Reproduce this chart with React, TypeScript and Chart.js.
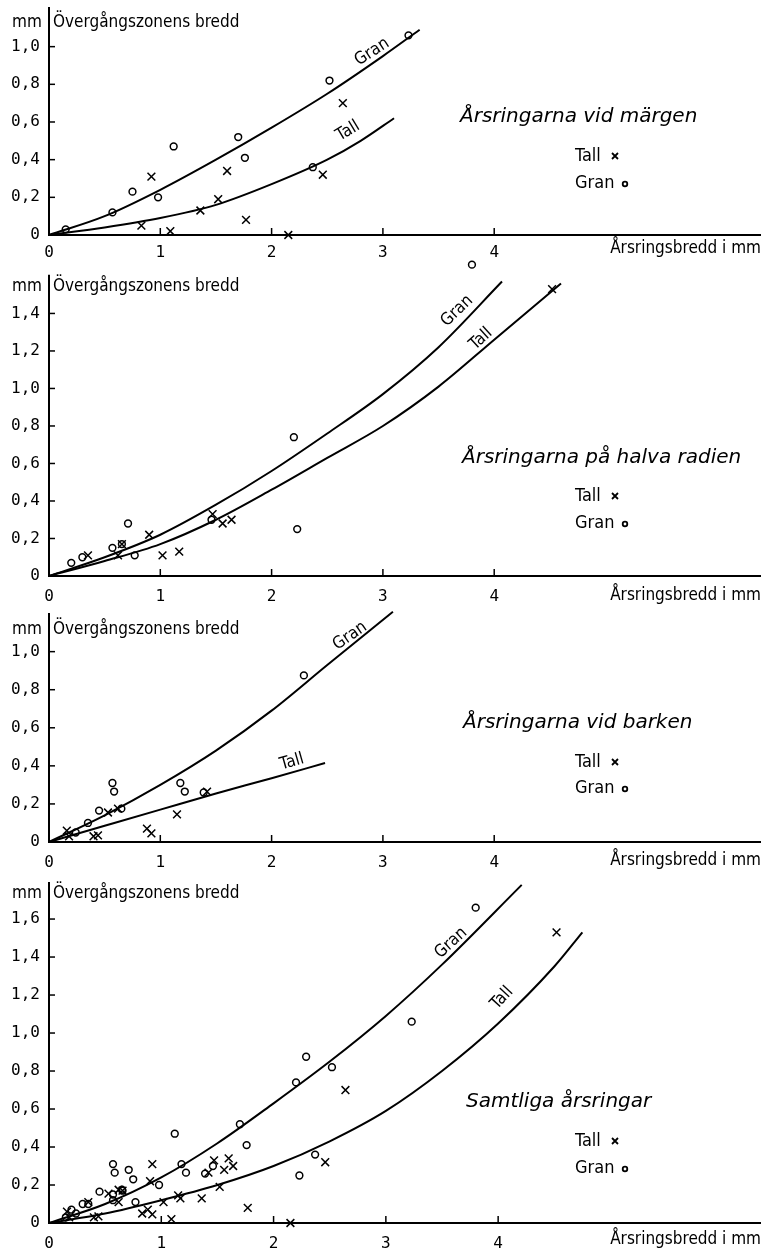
import React, { useEffect, useRef } from "react";
import { Chart, registerables } from "chart.js";

Chart.register(...registerables);

// ---------- Text ----------
const Y_TITLE_UNIT = "mm";
const Y_TITLE = "Övergångszonens bredd";
const X_TITLE = "Årsringsbredd i mm";
const SERIES_GRAN = "Gran";
const SERIES_TALL = "Tall";
const X_TICK_MAX = 4;

// ---------- Panel 1: Årsringarna vid märgen ----------
const p1GranX = [0.15, 0.57, 0.75, 0.98, 1.12, 1.70, 1.76, 2.37, 2.52, 3.23];
const p1GranY = [0.03, 0.12, 0.23, 0.20, 0.47, 0.52, 0.41, 0.36, 0.82, 1.06];
const p1TallX = [0.83, 0.92, 1.09, 1.36, 1.52, 1.60, 1.77, 2.15, 2.46, 2.64];
const p1TallY = [0.05, 0.31, 0.02, 0.13, 0.19, 0.34, 0.08, 0.00, 0.32, 0.70];
const p1GranCurveX = [0, 0.5, 1.0, 1.5, 2.0, 2.5, 3.0, 3.33];
const p1GranCurveY = [0, 0.10, 0.24, 0.40, 0.57, 0.75, 0.95, 1.09];
const p1TallCurveX = [0, 0.5, 1.0, 1.5, 2.0, 2.5, 2.8, 3.1];
const p1TallCurveY = [0, 0.04, 0.09, 0.16, 0.27, 0.40, 0.50, 0.62];

// ---------- Panel 2: Årsringarna på halva radien ----------
const p2GranX = [0.20, 0.30, 0.57, 0.655, 0.71, 0.77, 1.46, 2.20, 2.23, 3.80];
const p2GranY = [0.07, 0.10, 0.15, 0.17, 0.28, 0.11, 0.30, 0.74, 0.25, 1.66];
const p2TallX = [0.35, 0.62, 0.655, 0.90, 1.02, 1.17, 1.47, 1.56, 1.64, 4.52];
const p2TallY = [0.11, 0.11, 0.17, 0.22, 0.11, 0.13, 0.33, 0.28, 0.30, 1.53];
const p2GranCurveX = [0, 0.5, 1.0, 1.5, 2.0, 2.5, 3.0, 3.5, 4.07];
const p2GranCurveY = [0, 0.10, 0.22, 0.38, 0.56, 0.76, 0.97, 1.22, 1.57];
const p2TallCurveX = [0, 0.5, 1.0, 1.5, 2.0, 2.5, 3.0, 3.5, 4.0, 4.6];
const p2TallCurveY = [0, 0.08, 0.17, 0.30, 0.46, 0.63, 0.80, 1.01, 1.26, 1.56];

// ---------- Panel 3: Årsringarna vid barken ----------
const p3GranX = [0.24, 0.35, 0.45, 0.57, 0.585, 0.65, 1.18, 1.22, 1.39, 2.29];
const p3GranY = [0.05, 0.10, 0.165, 0.31, 0.265, 0.175, 0.31, 0.265, 0.26, 0.875];
const p3TallX = [0.16, 0.18, 0.40, 0.44, 0.53, 0.62, 0.88, 0.92, 1.15, 1.42];
const p3TallY = [0.06, 0.03, 0.03, 0.035, 0.155, 0.175, 0.07, 0.045, 0.145, 0.265];
const p3GranCurveX = [0, 0.5, 1.0, 1.5, 2.0, 2.5, 3.09];
const p3GranCurveY = [0, 0.14, 0.30, 0.48, 0.69, 0.93, 1.21];
const p3TallCurveX = [0, 0.5, 1.0, 1.5, 2.0, 2.48];
const p3TallCurveY = [0, 0.085, 0.17, 0.255, 0.335, 0.415];

// ---------- Panel 4: Samtliga årsringar (curves) ----------
const p4GranCurveX = [0, 0.5, 1.0, 1.5, 2.0, 2.5, 3.0, 3.5, 4.21];
const p4GranCurveY = [0, 0.10, 0.24, 0.42, 0.63, 0.85, 1.09, 1.36, 1.78];
const p4TallCurveX = [0, 0.5, 1.0, 1.5, 2.0, 2.5, 3.0, 3.5, 4.0, 4.5, 4.75];
const p4TallCurveY = [0, 0.05, 0.12, 0.20, 0.30, 0.43, 0.59, 0.80, 1.05, 1.35, 1.53];

// ---------- Fonts ----------
const LABEL_FONT = "'DejaVu Sans Condensed', 'Liberation Sans Narrow', 'DejaVu Sans', sans-serif";
const TICK_FONT = "'DejaVu Sans Mono', monospace";
const TITLE_FONT = "'DejaVu Sans', sans-serif";

type Pt = { x: number; y: number };
const pts = (xs: number[], ys: number[]): Pt[] => xs.map((x, i) => ({ x, y: ys[i] }));

type CurveLabel = { text: string; x: number; y: number; rot: number };
type PanelCfg = {
  key: string;
  top: number;
  height: number;
  padTop: number;
  bottomH: number;
  xMax: number;
  yMax: number;
  yAxisTop: number;
  yTickMax: number;
  xPad: number;
  gran: Pt[];
  tall: Pt[];
  granCurve: Pt[];
  tallCurve: Pt[];
  title: string;
  titleX: number;
  titleY: number;
  headY: number;
  xLabY: number;
  legTallY: number;
  legGranY: number;
  labels: CurveLabel[];
};

const panels: PanelCfg[] = [
  {
    key: "p1", top: 0, height: 265, padTop: 5, bottomH: 30, xMax: 6.388, yMax: 1.2105, yAxisTop: 1.2105, yTickMax: 1.0, xPad: 8,
    gran: pts(p1GranX, p1GranY), tall: pts(p1TallX, p1TallY),
    granCurve: pts(p1GranCurveX, p1GranCurveY), tallCurve: pts(p1TallCurveX, p1TallCurveY),
    title: "Årsringarna vid märgen", titleX: 460, titleY: 122, headY: 27, xLabY: 253,
    legTallY: 161, legGranY: 188,
    labels: [
      { text: SERIES_GRAN, x: 372, y: 52, rot: -33 },
      { text: SERIES_TALL, x: 348, y: 131, rot: -31 },
    ],
  },
  {
    key: "p2", top: 250, height: 356, padTop: 4, bottomH: 30, xMax: 6.388, yMax: 1.701, yAxisTop: 1.606, yTickMax: 1.4, xPad: 11,
    gran: pts(p2GranX, p2GranY), tall: pts(p2TallX, p2TallY),
    granCurve: pts(p2GranCurveX, p2GranCurveY), tallCurve: pts(p2TallCurveX, p2TallCurveY),
    title: "Årsringarna på halva radien", titleX: 462, titleY: 463, headY: 291, xLabY: 600,
    legTallY: 501, legGranY: 528,
    labels: [
      { text: SERIES_GRAN, x: 457, y: 311, rot: -44 },
      { text: SERIES_TALL, x: 481, y: 339, rot: -42 },
    ],
  },
  {
    key: "p3", top: 606, height: 266, padTop: 7, bottomH: 30, xMax: 6.388, yMax: 1.203, yAxisTop: 1.203, yTickMax: 1.0, xPad: 11,
    gran: pts(p3GranX, p3GranY), tall: pts(p3TallX, p3TallY),
    granCurve: pts(p3GranCurveX, p3GranCurveY), tallCurve: pts(p3TallCurveX, p3TallCurveY),
    title: "Årsringarna vid barken", titleX: 463, titleY: 728, headY: 634, xLabY: 865,
    legTallY: 767, legGranY: 793,
    labels: [
      { text: SERIES_GRAN, x: 350, y: 636, rot: -35 },
      { text: SERIES_TALL, x: 292, y: 762, rot: -16 },
    ],
  },
  {
    key: "p4", top: 872, height: 379, padTop: 10, bottomH: 28, xMax: 6.332, yMax: 1.795, yAxisTop: 1.795, yTickMax: 1.6, xPad: 11,
    gran: [...pts(p1GranX, p1GranY), ...pts(p2GranX, p2GranY), ...pts(p3GranX, p3GranY)],
    tall: [...pts(p1TallX, p1TallY), ...pts(p2TallX, p2TallY), ...pts(p3TallX, p3TallY)],
    granCurve: pts(p4GranCurveX, p4GranCurveY), tallCurve: pts(p4TallCurveX, p4TallCurveY),
    title: "Samtliga årsringar", titleX: 466, titleY: 1107, headY: 898, xLabY: 1244,
    legTallY: 1146, legGranY: 1173,
    labels: [
      { text: SERIES_GRAN, x: 451, y: 943, rot: -42 },
      { text: SERIES_TALL, x: 502, y: 998, rot: -47 },
    ],
  },
];

function PanelChart({ p }: { p: PanelCfg }) {
  const ref = useRef<HTMLCanvasElement | null>(null);

  useEffect(() => {
    const canvas = ref.current;
    if (!canvas) return;
    const T = p.top;

    const overlay = {
      id: "overlay",
      afterDraw(chart: any) {
        const ctx: CanvasRenderingContext2D = chart.ctx;
        const xs = chart.scales.x;
        const ys = chart.scales.y;
        const { left, bottom } = chart.chartArea;
        ctx.save();
        ctx.strokeStyle = "#000";
        ctx.fillStyle = "#000";
        // y axis line (up to the axis top value)
        ctx.lineWidth = 2;
        ctx.beginPath();
        ctx.moveTo(left, ys.getPixelForValue(0) + 1);
        ctx.lineTo(left, ys.getPixelForValue(p.yAxisTop));
        ctx.stroke();
        ctx.lineWidth = 1.5;
        // inward tick marks
        ys.ticks.forEach((t: any) => {
          if (t.value === 0) return;
          const py = ys.getPixelForValue(t.value);
          ctx.beginPath();
          ctx.moveTo(left, py);
          ctx.lineTo(left + 6, py);
          ctx.stroke();
        });
        xs.ticks.forEach((t: any) => {
          if (t.value === 0) return;
          const px = xs.getPixelForValue(t.value);
          ctx.beginPath();
          ctx.moveTo(px, bottom);
          ctx.lineTo(px, bottom - 7);
          ctx.stroke();
        });
        // axis titles
        ctx.textBaseline = "alphabetic";
        ctx.textAlign = "left";
        ctx.font = `17px ${LABEL_FONT}`;
        ctx.fillText(Y_TITLE_UNIT, 12, p.headY - T);
        ctx.fillText(Y_TITLE, 53, p.headY - T);
        ctx.textAlign = "right";
        ctx.fillText(X_TITLE, 761, p.xLabY - T);
        // panel title
        ctx.textAlign = "left";
        ctx.font = `italic 20px ${TITLE_FONT}`;
        ctx.fillText(p.title, p.titleX, p.titleY - T);
        // legend
        ctx.font = `18px ${LABEL_FONT}`;
        ctx.fillText(SERIES_TALL, 575, p.legTallY - T);
        ctx.fillText(SERIES_GRAN, 575, p.legGranY - T);
        ctx.lineWidth = 1.8;
        const cx = 615, cy = p.legTallY - T - 5, r = 3;
        ctx.beginPath();
        ctx.moveTo(cx - r, cy - r);
        ctx.lineTo(cx + r, cy + r);
        ctx.moveTo(cx + r, cy - r);
        ctx.lineTo(cx - r, cy + r);
        ctx.stroke();
        ctx.beginPath();
        ctx.arc(625, p.legGranY - T - 4, 2.3, 0, Math.PI * 2);
        ctx.stroke();
        // curve labels
        ctx.font = `17px ${LABEL_FONT}`;
        ctx.textAlign = "center";
        ctx.textBaseline = "middle";
        p.labels.forEach((lab) => {
          ctx.save();
          ctx.translate(lab.x, lab.y - T);
          ctx.rotate((lab.rot * Math.PI) / 180);
          ctx.fillText(lab.text, 0, 0);
          ctx.restore();
        });
        ctx.restore();
      },
    };

    const curveStyle = {
      showLine: true,
      borderColor: "#000",
      borderWidth: 2,
      pointRadius: 0,
      pointHoverRadius: 0,
      cubicInterpolationMode: "monotone",
      fill: false,
      clip: false,
    };

    const chart = new Chart(canvas, {
      type: "scatter",
      data: {
        datasets: [
          { label: SERIES_GRAN + " kurva", data: p.granCurve, ...curveStyle } as any,
          { label: SERIES_TALL + " kurva", data: p.tallCurve, ...curveStyle } as any,
          {
            label: SERIES_GRAN,
            data: p.gran,
            pointStyle: "circle",
            pointRadius: 3.4,
            pointBorderWidth: 1.5,
            borderWidth: 1.5,
            borderColor: "#000",
            pointBorderColor: "#000",
            backgroundColor: "rgba(0,0,0,0)",
            pointBackgroundColor: "rgba(0,0,0,0)",
            clip: false,
          } as any,
          {
            label: SERIES_TALL,
            data: p.tall,
            pointStyle: "crossRot",
            pointRadius: 5.5,
            pointBorderWidth: 1.5,
            borderWidth: 1.5,
            borderColor: "#000",
            pointBorderColor: "#000",
            clip: false,
          } as any,
        ],
      },
      options: {
        responsive: false,
        maintainAspectRatio: false,
        devicePixelRatio: 1,
        animation: false,
        events: [],
        layout: { padding: { top: p.padTop, left: 0, right: 0, bottom: 0 } },
        plugins: { legend: { display: false }, tooltip: { enabled: false }, title: { display: false } },
        scales: {
          x: {
            type: "linear",
            position: "bottom",
            min: 0,
            max: p.xMax,
            grid: { display: false, drawTicks: false },
            border: { display: true, color: "#000", width: 2 },
            ticks: {
              stepSize: 1,
              autoSkip: false,
              maxRotation: 0,
              color: "#000",
              padding: p.xPad,
              font: { family: TICK_FONT, size: 16 },
              callback: (v: any) => String(v),
            },
            afterBuildTicks: (s: any) => {
              s.ticks = s.ticks.filter((t: any) => t.value <= X_TICK_MAX + 1e-9);
            },
            afterFit: (s: any) => {
              s.height = p.bottomH;
              s.paddingLeft = 0;
              s.paddingRight = 0;
            },
          },
          y: {
            type: "linear",
            position: "left",
            min: 0,
            max: p.yMax,
            grid: { display: false, drawTicks: false },
            border: { display: false },
            ticks: {
              stepSize: 0.2,
              autoSkip: false,
              color: "#000",
              padding: 9,
              font: { family: TICK_FONT, size: 16 },
              callback: (v: any) => (Math.abs(Number(v)) < 1e-9 ? "0" : Number(v).toFixed(1).replace(".", ",")),
            },
            afterBuildTicks: (s: any) => {
              s.ticks = s.ticks.filter((t: any) => t.value <= p.yTickMax + 1e-9);
            },
            afterFit: (s: any) => {
              s.width = 49;
              s.paddingTop = 0;
              s.paddingBottom = 0;
            },
          },
        },
      } as any,
      plugins: [overlay],
    });

    return () => chart.destroy();
  }, [p]);

  return (
    <canvas
      ref={ref}
      width={767}
      height={p.height}
      style={{ position: "absolute", left: 0, top: p.top, width: 767, height: p.height }}
    />
  );
}

export default function App() {
  return (
    <div
      style={{
        position: "absolute",
        left: 0,
        top: 0,
        width: 767,
        height: 1251,
        background: "#fff",
        overflow: "hidden",
      }}
    >
      {panels.map((p) => (
        <PanelChart key={p.key} p={p} />
      ))}
    </div>
  );
}
